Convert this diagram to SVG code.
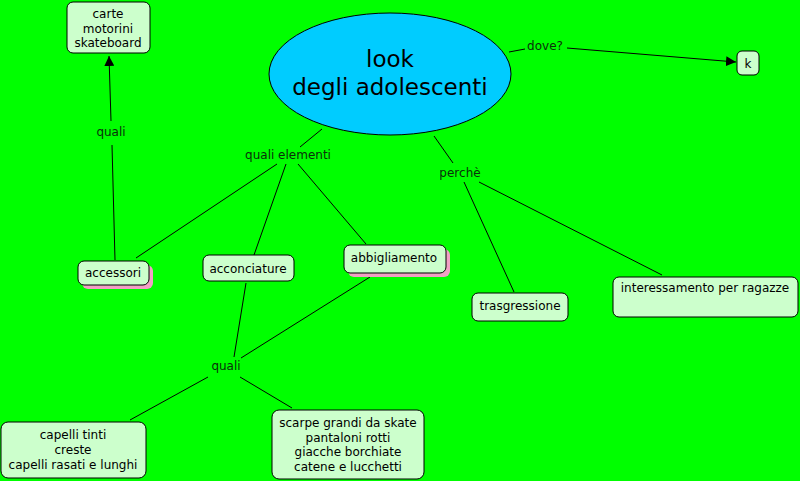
<svg xmlns="http://www.w3.org/2000/svg" width="800" height="481" viewBox="0 0 800 481">
<defs>
<marker id="arr" viewBox="0 0 10 10" refX="10" refY="5" markerWidth="10" markerHeight="10" markerUnits="userSpaceOnUse" orient="auto">
<path d="M0,0 L10,5 L0,10 z" fill="#000"/>
</marker>
</defs>
<style>
.box{fill:#ccffcc;stroke:#000;stroke-width:1}
.sh{fill:#f2a0c4}
.t{font-family:"DejaVu Sans",Verdana,sans-serif;font-size:12px;fill:#000;text-anchor:middle}
.lbl{font-family:"DejaVu Sans",Verdana,sans-serif;font-size:12px;fill:#0b300b;text-anchor:middle}
.ln{stroke:#000;stroke-width:1;fill:none}
</style>
<rect width="800" height="481" fill="#00ff00"/>
<g id="connectors">
<line class="ln" x1="115" y1="260" x2="112" y2="145"/>
<line class="ln" x1="111" y1="121" x2="109" y2="56" marker-end="url(#arr)"/>
<text class="lbl" x="111" y="136">quali</text>
<line class="ln" x1="322" y1="129" x2="300" y2="147"/>
<text class="lbl" x="288" y="159">quali elementi</text>
<line class="ln" x1="277" y1="164" x2="136" y2="258"/>
<line class="ln" x1="286" y1="164" x2="254" y2="255"/>
<line class="ln" x1="298" y1="164" x2="366" y2="244"/>
<line class="ln" x1="434" y1="136" x2="453" y2="163"/>
<text class="lbl" x="460" y="177">perchè</text>
<line class="ln" x1="464" y1="182" x2="514" y2="292"/>
<line class="ln" x1="479" y1="182" x2="662" y2="275"/>
<line class="ln" x1="509" y1="52" x2="525" y2="49"/>
<text class="lbl" x="545" y="50">dove?</text>
<line class="ln" x1="567" y1="48" x2="736" y2="62" marker-end="url(#arr)"/>
<line class="ln" x1="246" y1="283" x2="234" y2="357"/>
<line class="ln" x1="370" y1="277" x2="241" y2="358"/>
<text class="lbl" x="226" y="370">quali</text>
<line class="ln" x1="208" y1="377" x2="130" y2="420"/>
<line class="ln" x1="240" y1="377" x2="292" y2="408"/>
</g>
<g id="look">
<ellipse cx="390" cy="74" rx="121" ry="61" fill="#00ccff" stroke="#000" stroke-width="1"/>
<text class="t" x="390" y="67" style="font-size:23px">look</text>
<text class="t" x="390" y="95" style="font-size:23px">degli adolescenti</text>
</g>
<g id="carte">
<rect class="box" x="67" y="2" width="83" height="51" rx="6"/>
<text class="t" x="108" y="18">carte</text>
<text class="t" x="108" y="33">motorini</text>
<text class="t" x="108" y="47">skateboard</text>
</g>
<g id="k">
<rect class="box" x="737" y="51" width="22" height="24" rx="5"/>
<text class="t" x="748" y="68">k</text>
</g>
<g id="accessori">
<rect class="sh" x="82" y="265" width="71" height="24" rx="6"/>
<rect class="box" x="78" y="261" width="71" height="24" rx="6"/>
<text class="t" x="113" y="277">accessori</text>
</g>
<g id="acconciature">
<rect class="box" x="203" y="255" width="91" height="26" rx="6"/>
<text class="t" x="248" y="273">acconciature</text>
</g>
<g id="abbigliamento">
<rect class="sh" x="348" y="249" width="102" height="28" rx="6"/>
<rect class="box" x="344" y="245" width="102" height="28" rx="6"/>
<text class="t" x="394" y="262">abbigliamento</text>
</g>
<g id="trasgressione">
<rect class="box" x="472" y="293" width="96" height="28" rx="6"/>
<text class="t" x="520" y="310">trasgressione</text>
</g>
<g id="interessamento">
<rect class="box" x="613" y="277" width="185" height="40" rx="6"/>
<text class="t" x="705" y="292">interessamento per ragazze</text>
</g>
<g id="capelli">
<rect class="box" x="1" y="422" width="145" height="56" rx="7"/>
<text class="t" x="73" y="439">capelli tinti</text>
<text class="t" x="73" y="454">creste</text>
<text class="t" x="73" y="469">capelli rasati e lunghi</text>
</g>
<g id="scarpe">
<rect class="box" x="272" y="410" width="152" height="69" rx="7"/>
<text class="t" x="348" y="427">scarpe grandi da skate</text>
<text class="t" x="348" y="442">pantaloni rotti</text>
<text class="t" x="348" y="456">giacche borchiate</text>
<text class="t" x="348" y="471">catene e lucchetti</text>
</g>
</svg>
